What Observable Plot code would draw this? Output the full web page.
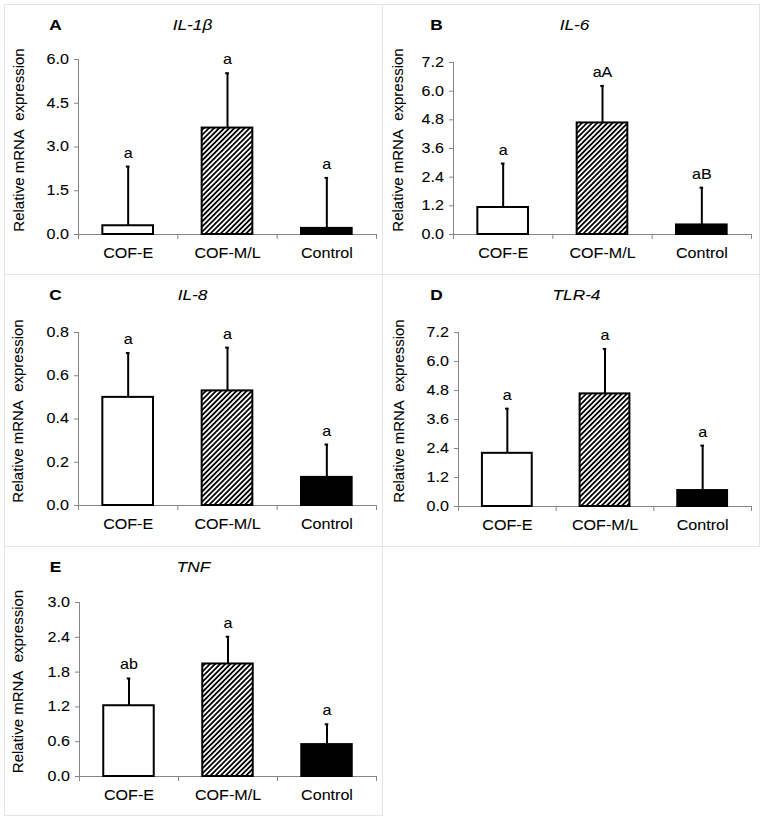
<!DOCTYPE html>
<html><head><meta charset="utf-8">
<script src="https://cdn.jsdelivr.net/npm/d3@7"></script>
<script src="https://cdn.jsdelivr.net/npm/@observablehq/plot@0.6"></script>
<style>
body{margin:0;background:#fff;}
#wrap{position:relative;width:765px;height:824px;background:#fff;overflow:hidden;font-family:"Liberation Sans",Arial,sans-serif;}
.panel{position:absolute;border:1px solid #e4e4e4;box-sizing:border-box;background:#fff;}
.panel svg{position:absolute;left:0;top:0;display:block;overflow:visible;}
.panel svg text{stroke:#000;stroke-width:0.08px;}
</style></head><body>
<svg width="0" height="0" style="position:absolute"><defs>
<pattern id="hatch" patternUnits="userSpaceOnUse" width="3.6" height="3.6" patternTransform="rotate(45)">
<rect width="3.6" height="3.6" fill="#fff"/><rect x="0" y="0" width="1.8" height="3.6" fill="#000"/>
</pattern></defs></svg>
<div id="wrap"></div>
<script>
// ---- data ----
const categories = ["COF-E", "COF-M/L", "Control"];
const barFills = ["#ffffff", "url(#hatch)", "#000000"];
const yTitle = "Relative mRNA\u00a0 expression";
const panelLetters = ["A", "B", "C", "D", "E"];
const genes = ["IL-1β", "IL-6", "IL-8", "TLR-4", "TNF"];

const il1bMean = [0.30, 3.65, 0.21];
const il1bSE   = [2.03, 1.88, 1.73];
const il1bSig  = ["a", "a", "a"];
const il1bTicks = [0, 1.5, 3.0, 4.5, 6.0];

const il6Mean = [1.13, 4.67, 0.40];
const il6SE   = [1.84, 1.55, 1.56];
const il6Sig  = ["a", "aA", "aB"];
const il6Ticks = [0, 1.2, 2.4, 3.6, 4.8, 6.0, 7.2];

const il8Mean = [0.50, 0.53, 0.13];
const il8SE   = [0.205, 0.20, 0.152];
const il8Sig  = ["a", "a", "a"];
const il8Ticks = [0, 0.2, 0.4, 0.6, 0.8];

const tlr4Mean = [2.20, 4.66, 0.66];
const tlr4SE   = [1.85, 1.86, 1.86];
const tlr4Sig  = ["a", "a", "a"];
const tlr4Ticks = [0, 1.2, 2.4, 3.6, 4.8, 6.0, 7.2];

const tnfMean = [1.22, 1.94, 0.55];
const tnfSE   = [0.47, 0.47, 0.35];
const tnfSig  = ["ab", "a", "a"];
const tnfTicks = [0, 0.6, 1.2, 1.8, 2.4, 3.0];

const allMeans = [il1bMean, il6Mean, il8Mean, tlr4Mean, tnfMean];
const allSE = [il1bSE, il6SE, il8SE, tlr4SE, tnfSE];
const allSig = [il1bSig, il6Sig, il8Sig, tlr4Sig, tnfSig];
const allTicks = [il1bTicks, il6Ticks, il8Ticks, tlr4Ticks, tnfTicks];

// ---- layout ----
const layout = [
  {left: 4,   top: 4,   w: 379, h: 271, ml: 73, mt: 54, mb: 40, mr: 6, letterX: 50, titleX: 187, yTitleX: 14},
  {left: 382, top: 4,   w: 378, h: 271, ml: 70, mt: 57, mb: 40, mr: 8, letterX: 53, titleX: 191, yTitleX: 15},
  {left: 4,   top: 274, w: 379, h: 273, ml: 73, mt: 57, mb: 41, mr: 6, letterX: 50, titleX: 187, yTitleX: 13},
  {left: 382, top: 274, w: 378, h: 273, ml: 75, mt: 57, mb: 40, mr: 8, letterX: 53, titleX: 193, yTitleX: 16},
  {left: 4,   top: 546, w: 379, h: 270, ml: 74, mt: 55, mb: 39, mr: 6, letterX: 50, titleX: 188, yTitleX: 13}
];

const grey = "#868686";
const wrap = document.getElementById("wrap");

layout.forEach((L, p) => {
  const W = L.w - 2, H = L.h - 2;
  const ticks = allTicks[p];
  const rows = categories.map((c, i) => ({
    i, cat: c, mean: allMeans[p][i], top: allMeans[p][i] + allSE[p][i], sig: allSig[p][i]
  }));
  const frameCx = (L.ml + (W - L.mr)) / 2;
  const frameCy = (L.mt + (H - L.mb)) / 2;

  const svg = Plot.plot({
    width: W, height: H,
    marginLeft: L.ml, marginRight: L.mr, marginTop: L.mt, marginBottom: L.mb,
    style: {fontFamily: "'Liberation Sans', Arial, sans-serif", fontSize: "14px", color: "#000", background: "transparent", overflow: "visible"},
    x: {type: "linear", domain: [-0.5, 2.5]},
    y: {type: "linear", domain: [0, ticks[ticks.length - 1]]},
    marks: [
      Plot.ruleY([0], {stroke: grey, strokeWidth: 1}),
      Plot.ruleX([-0.5], {stroke: grey, strokeWidth: 1}),
      ...rows.map((r, i) => Plot.rect([r], {
        x1: d => d.i - 0.255, x2: d => d.i + 0.255, y1: 0, y2: "mean",
        fill: barFills[i], stroke: "#000", strokeWidth: 2
      })),
      Plot.ruleX(rows, {x: "i", y1: "mean", y2: "top", stroke: "#000", strokeWidth: 2}),
      Plot.ruleY(rows, {y: "top", x1: d => d.i - 0.018, x2: d => d.i + 0.018, stroke: "#000", strokeWidth: 2}),
      Plot.text(rows, {x: "i", y: "top", text: "sig", dy: -9, lineAnchor: "bottom", fontSize: 14}),
      Plot.axisY(ticks, {tickSize: 4, tickPadding: 5.5, tickFormat: d => d.toFixed(1), stroke: grey, label: null, fontSize: 14}),
      Plot.axisX([-0.5, 0.5, 1.5, 2.5], {tickSize: 5, tickFormat: () => "", stroke: grey, label: null}),
      Plot.axisX([0, 1, 2], {tickSize: 0, tickPadding: 13.5, tickFormat: i => categories[i], label: null, fontSize: 14}),
      Plot.text([panelLetters[p]], {text: d => d, frameAnchor: "top-left", dx: L.letterX - L.ml, dy: 20 - L.mt,
        textAnchor: "middle", lineAnchor: "middle", fontWeight: "bold", fontSize: 15}),
      Plot.text([genes[p]], {text: d => d, frameAnchor: "top", dx: L.titleX - frameCx, dy: 20 - L.mt,
        textAnchor: "middle", lineAnchor: "middle", fontStyle: "italic", fontSize: 15}),
      Plot.text([yTitle], {text: d => d, frameAnchor: "left", dx: L.yTitleX - L.ml, dy: H / 2 - frameCy,
        rotate: -90, textAnchor: "middle", lineAnchor: "middle", fontSize: 15})
    ]
  });

  // widen horizontal labels to match the reference's horizontally stretched type
  d3.select(svg).selectAll("text").each(function () {
    const t = this.getAttribute("transform");
    if (t && !t.includes("rotate")) this.setAttribute("transform", t + " scale(1.15,1)");
  });

  const div = document.createElement("div");
  div.className = "panel";
  div.style.left = L.left + "px";
  div.style.top = L.top + "px";
  div.style.width = L.w + "px";
  div.style.height = L.h + "px";
  div.appendChild(svg);
  wrap.appendChild(div);
});
</script>
</body></html>
